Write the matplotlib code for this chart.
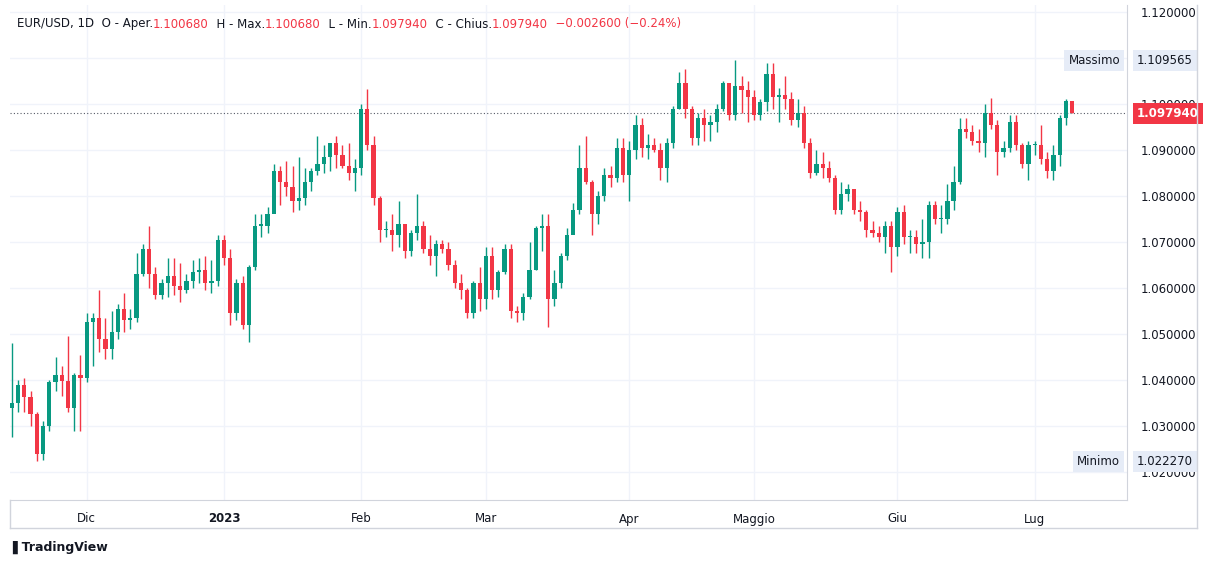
import matplotlib
matplotlib.use("Agg")
import matplotlib.pyplot as plt
import pandas as pd
import numpy as np

dates = pd.bdate_range("2022-11-15", "2023-07-11")
close = [1.0350,1.0390,1.0362,1.0325,
1.0240,1.0300,1.0395,1.0410,1.0398,
1.0338,1.0410,1.0405,1.0525,1.0535,
1.0490,1.0468,1.0505,1.0555,1.0530,
1.0535,1.0630,1.0685,1.0630,1.0585,
1.0610,1.0625,1.0605,1.0595,1.0615,
1.0635,1.0640,1.0610,1.0615,1.0705,
1.0665,1.0545,1.0610,1.0520,1.0645,
1.0735,1.0735,1.0760,1.0855,1.0830,
1.0820,1.0790,1.0795,1.0830,1.0855,
1.0870,1.0885,1.0915,1.0890,1.0865,
1.0850,1.0860,1.0990,1.0910,1.0795,
1.0725,1.0725,1.0715,1.0740,1.0680,
1.0720,1.0735,1.0685,1.0670,1.0695,
1.0685,1.0650,1.0610,1.0595,1.0545,
1.0610,1.0575,1.0670,1.0595,1.0635,
1.0685,1.0550,1.0545,1.0580,1.0640,
1.0730,1.0735,1.0575,1.0610,1.0670,
1.0715,1.0770,1.0860,1.0830,1.0760,
1.0800,1.0845,1.0840,1.0905,1.0845,
1.0900,1.0955,1.0905,1.0910,1.0900,
1.0860,1.0915,1.0990,1.1045,1.0990,
1.0925,1.0970,1.0955,1.0960,1.0990,
1.1045,1.0975,1.1040,1.1030,1.1015,
1.0975,1.1005,1.1065,1.1015,1.1020,
1.1010,1.0965,1.0980,1.0915,1.0850,
1.0870,1.0860,1.0840,1.0770,1.0805,
1.0815,1.0770,1.0765,1.0725,1.0720,
1.0710,1.0735,1.0690,1.0765,1.0710,
1.0710,1.0695,1.0700,1.0780,1.0750,
1.0750,1.0790,1.0830,1.0945,1.0940,
1.0920,1.0915,1.0980,1.0955,1.0895,
1.0905,1.0960,1.0910,1.0870,1.0910,
1.0910,1.0880,1.0855,1.0890,1.0970,
1.10054,1.09794]
high = [1.0480,1.0400,1.0405,1.0375,
1.0330,1.0310,1.0400,1.0450,1.0430,
1.0495,1.0415,1.0455,1.0545,1.0545,
1.0595,1.0535,1.0550,1.0565,1.0590,
1.0555,1.0675,1.0695,1.0735,1.0645,
1.0620,1.0665,1.0665,1.0655,1.0630,
1.0660,1.0665,1.0670,1.0660,1.0715,
1.0715,1.0685,1.0620,1.0625,1.0650,
1.0760,1.0760,1.0775,1.0870,1.0865,
1.0875,1.0865,1.0885,1.0860,1.0860,
1.0930,1.0910,1.0915,1.0930,1.0910,
1.0915,1.0880,1.1000,1.1033,1.0930,
1.0800,1.0745,1.0760,1.0790,1.0720,
1.0725,1.0805,1.0745,1.0715,1.0705,
1.0705,1.0700,1.0660,1.0630,1.0600,
1.0615,1.0645,1.0690,1.0690,1.0640,
1.0695,1.0695,1.0560,1.0590,1.0700,
1.0735,1.0760,1.0760,1.0640,1.0675,
1.0730,1.0785,1.0910,1.0930,1.0835,
1.0810,1.0860,1.0865,1.0925,1.0925,
1.0920,1.0975,1.0970,1.0935,1.0925,
1.0915,1.0925,1.0995,1.1070,1.1075,
1.0995,1.0980,1.0990,1.0975,1.1000,
1.1050,1.1045,1.1095,1.1060,1.1050,
1.1030,1.1010,1.1090,1.1090,1.1035,
1.1060,1.1025,1.1010,1.0995,1.0925,
1.0900,1.0895,1.0875,1.0845,1.0830,
1.0825,1.0815,1.0790,1.0770,1.0745,
1.0735,1.0745,1.0745,1.0775,1.0780,
1.0725,1.0725,1.0750,1.0790,1.0790,
1.0780,1.0825,1.0865,1.0970,1.0970,
1.0955,1.0945,1.1000,1.1012,1.0965,
1.0920,1.0975,1.0975,1.0915,1.0920,
1.0920,1.0955,1.0895,1.0910,1.0975,
1.1010,1.10068]
low = [1.0275,1.0330,1.0330,1.0300,
1.0223,1.0225,1.0290,1.0375,1.0365,
1.0330,1.0290,1.0290,1.0395,1.0430,
1.0460,1.0445,1.0445,1.0490,1.0505,
1.0510,1.0525,1.0625,1.0600,1.0575,
1.0575,1.0580,1.0585,1.0570,1.0590,
1.0600,1.0610,1.0595,1.0590,1.0605,
1.0650,1.0520,1.0530,1.0510,1.0483,
1.0640,1.0710,1.0720,1.0770,1.0780,
1.0800,1.0765,1.0770,1.0780,1.0810,
1.0845,1.0850,1.0855,1.0860,1.0860,
1.0835,1.0810,1.0845,1.0900,1.0780,
1.0700,1.0710,1.0680,1.0690,1.0665,
1.0670,1.0705,1.0675,1.0650,1.0625,
1.0675,1.0640,1.0600,1.0575,1.0535,
1.0535,1.0550,1.0555,1.0575,1.0580,
1.0630,1.0535,1.0525,1.0530,1.0575,
1.0640,1.0680,1.0516,1.0560,1.0600,
1.0660,1.0740,1.0760,1.0825,1.0715,
1.0740,1.0790,1.0820,1.0830,1.0830,
1.0790,1.0880,1.0885,1.0880,1.0895,
1.0835,1.0830,1.0905,1.0990,1.0970,
1.0910,1.0910,1.0920,1.0920,1.0940,
1.0985,1.0965,1.0965,1.0980,1.0960,
1.0965,1.0965,1.0985,1.0990,1.0960,
1.0990,1.0955,1.0950,1.0905,1.0840,
1.0845,1.0840,1.0830,1.0760,1.0760,
1.0790,1.0760,1.0745,1.0710,1.0710,
1.0700,1.0675,1.0635,1.0670,1.0695,
1.0675,1.0675,1.0665,1.0665,1.0740,
1.0720,1.0740,1.0770,1.0825,1.0925,
1.0910,1.0895,1.0885,1.0945,1.0845,
1.0885,1.0895,1.0900,1.0860,1.0835,
1.0890,1.0870,1.0840,1.0835,1.0865,
1.0955,1.09794]
first_open = 1.0340
last_open = 1.10068
opn = [first_open] + close[:-1]
opn[-1] = last_open

month_labels = ["Dic", "2023", "Feb", "Mar", "Apr", "Maggio", "Giu", "Lug"]
month_starts = ["2022-12-01", "2023-01-02", "2023-02-01", "2023-03-01",
                "2023-04-03", "2023-05-01", "2023-06-01", "2023-07-03"]
yticks = [1.02, 1.03, 1.04, 1.05, 1.06, 1.07, 1.08, 1.09, 1.10, 1.11, 1.12]

GREEN = "#089981"; RED = "#F23645"; GRID = "#f0f3fa"; TXT = "#131722"

n = min(len(dates), len(close))
dates = dates[:n]
x = np.arange(n)
fig = plt.figure(figsize=(12.09, 5.64), dpi=100)
W, H = 1209, 564
ax = fig.add_axes([10/W, (H-500)/H, 1117/W, 495/H])
ax.set_xlim(-0.3, 178.8)
ax.set_ylim(1.01391, 1.1215)

xpos = [int(np.searchsorted(dates, pd.Timestamp(d))) for d in month_starts]
for xp in xpos:
    ax.axvline(xp, color=GRID, lw=1, zorder=0)
for yt in yticks:
    ax.axhline(yt, color=GRID, lw=1, zorder=0)

for i in range(n):
    o, c, h, l = opn[i], close[i], high[i], low[i]
    col = GREEN if c >= o else RED
    ax.vlines(x[i], l, h, color=col, lw=1, zorder=2)
    b = min(o, c); hgt = max(abs(c - o), 0.0003)
    ax.bar(x[i], hgt, bottom=b, width=0.68, color=col, lw=0, zorder=3)

ax.axhline(close[-1], color="#555a66", lw=0.8, ls=(0, (1, 2)), zorder=1)
for s in ax.spines.values():
    s.set_visible(False)
ax.spines["right"].set_visible(True); ax.spines["right"].set_color("#d1d4dc")
ax.spines["bottom"].set_visible(True); ax.spines["bottom"].set_color("#d1d4dc")
ax.set_xticks(xpos)
ax.set_xticklabels(month_labels)
for lbl, t in zip(ax.get_xticklabels(), month_labels):
    lbl.set_color(TXT); lbl.set_fontsize(8.5)
    if t == "2023":
        lbl.set_fontweight("bold")
ax.tick_params(axis="x", length=0, pad=9)
ax.yaxis.tick_right()
ax.set_yticks(yticks)
ax.set_yticklabels([f"{v:.6f}" for v in yticks])
ax.tick_params(axis="y", length=0, pad=10, labelsize=8.5, labelcolor=TXT)

def tag(price, text, fc, tc, name=None):
    ax.annotate(text, xy=(1.0, price), xycoords=("axes fraction", "data"),
                xytext=(7, 0), textcoords="offset points", ha="left", va="center",
                fontsize=8.5, color=tc, fontweight="bold" if fc == RED else "normal",
                bbox=dict(boxstyle="square,pad=0.35", fc=fc, ec="none"),
                annotation_clip=False, zorder=10)
    if name:
        ax.annotate(name, xy=(1.0, price), xycoords=("axes fraction", "data"),
                    xytext=(-5, 0), textcoords="offset points", ha="right", va="center",
                    fontsize=8.5, color=TXT,
                    bbox=dict(boxstyle="square,pad=0.35", fc="#e6ecf7", ec="none"),
                    annotation_clip=False, zorder=10)

tag(max(high), f"{1.109565:.6f}", "#e6ecf7", TXT, "Massimo")
tag(min(low), f"{1.022270:.6f}", "#e6ecf7", TXT, "Minimo")
tag(close[-1], f"{close[-1]:.6f}", RED, "white")

fig.add_artist(plt.Line2D([10/W, 1197/W], [(H-528)/H]*2, color="#d1d4dc", lw=1))
fig.add_artist(plt.Line2D([1197/W]*2, [(H-528)/H, (H-5)/H], color="#d1d4dc", lw=1))
fig.add_artist(plt.Line2D([10/W]*2, [(H-528)/H, (H-500)/H], color="#d1d4dc", lw=1))

chg = close[-1] - close[-2]
parts = [("EUR/USD, 1D  O - Aper.", TXT), (f"{opn[-1]:.6f}", RED), ("  H - Max.", TXT),
         (f"{high[-1]:.6f}", RED), ("  L - Min.", TXT), (f"{low[-1]:.6f}", RED),
         ("  C - Chius.", TXT), (f"{close[-1]:.6f}", RED),
         (f"  {chg:.6f} ({chg/close[-2]*100:.2f}%)".replace("-", "\u2212"), RED)]
fig.canvas.draw()
r = fig.canvas.get_renderer()
xx = 17
for t, c in parts:
    tt = fig.text(xx/W, 1-24/H, t, color=c, fontsize=8.5, va="center", ha="left")
    xx += tt.get_window_extent(r).width
fig.text(12/W, 1-547/H, "\u258cTradingView", fontsize=9, color=TXT, va="center", fontweight="bold")
fig.savefig("out.png", dpi=100, facecolor="white")
